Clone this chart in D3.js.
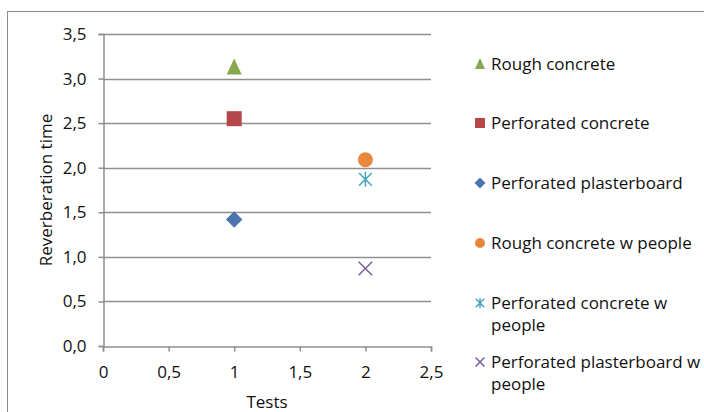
<!DOCTYPE html>
<html>
<head>
<meta charset="utf-8">
<script src="https://cdn.jsdelivr.net/npm/d3@7"></script>
<style>
  html, body { margin: 0; padding: 0; background: #fff; }
  svg text { font-family: "Open Sans", "Noto Sans", sans-serif; fill: #111; }
</style>
</head>
<body>
<svg id="chart" width="704" height="412"></svg>
<script>
// Series: one measurement each, at a test number
const seriesNames = [
  "Rough concrete",
  "Perforated concrete",
  "Perforated plasterboard",
  "Rough concrete w people",
  "Perforated concrete w people",
  "Perforated plasterboard w people"
];
const legendLines = [
  ["Rough concrete"],
  ["Perforated concrete"],
  ["Perforated plasterboard"],
  ["Rough concrete w people"],
  ["Perforated concrete w", "people"],
  ["Perforated plasterboard w", "people"]
];
const testNumber = [1, 1, 1, 2, 2, 2];
const reverbTime = [3.13, 2.55, 1.42, 2.09, 1.87, 0.87];
const markerKind = ["triangle", "square", "diamond", "circle", "asterisk", "cross"];
const seriesColors = ["#87a84c", "#b5464a", "#4a76ad", "#e8883d", "#43a5c0", "#7a5e9b"];

const xTicks = [0, 0.5, 1, 1.5, 2, 2.5];
const yTicks = [0, 0.5, 1, 1.5, 2, 2.5, 3, 3.5];
const xLabel = v => String(v).replace(".", ",");
const yLabel = v => v.toFixed(1).replace(".", ",");

const fontSize = 17;
const svg = d3.select("#chart");

// outer chart frame
svg.append("rect")
  .attr("x", 7.5).attr("y", 11.5)
  .attr("width", 720).attr("height", 420)
  .attr("fill", "none").attr("stroke", "#8c8c8c").attr("stroke-width", 1);

const x = d3.scaleLinear().domain([0, 2.5]).range([103, 431]);
const y = d3.scaleLinear().domain([0, 3.5]).range([346, 34]);

const gridColor = "#8f8f8f";

// horizontal gridlines
svg.append("g")
  .selectAll("line")
  .data(yTicks.filter(t => t > 0))
  .join("line")
  .attr("x1", x(0)).attr("x2", x(2.5))
  .attr("y1", d => Math.round(y(d)) + 0.5).attr("y2", d => Math.round(y(d)) + 0.5)
  .attr("stroke", gridColor).attr("stroke-width", 1.5);

// y axis
const yAxis = svg.append("g")
  .attr("transform", `translate(${x(0) + 0.5},0)`)
  .call(d3.axisLeft(y).tickValues(yTicks).tickFormat(yLabel).tickSize(5).tickPadding(12));
yAxis.select(".domain").attr("stroke", gridColor).attr("stroke-width", 1.5);
yAxis.selectAll(".tick line").attr("stroke", gridColor).attr("stroke-width", 1.5);
yAxis.selectAll(".tick text").attr("font-size", fontSize).attr("fill", "#111")
  .style("font-family", '"Open Sans", sans-serif');

// x axis
const xAxis = svg.append("g")
  .attr("transform", `translate(0,${Math.round(y(0)) + 0.5})`)
  .call(d3.axisBottom(x).tickValues(xTicks).tickFormat(xLabel).tickSize(5).tickPadding(14));
xAxis.select(".domain").attr("stroke", gridColor).attr("stroke-width", 1.5);
xAxis.selectAll(".tick line").attr("stroke", gridColor).attr("stroke-width", 1.5);
xAxis.selectAll(".tick text").attr("font-size", fontSize).attr("fill", "#111")
  .style("font-family", '"Open Sans", sans-serif');

// axis titles
svg.append("text")
  .attr("x", (x(0) + x(2.5)) / 2).attr("y", 408)
  .attr("text-anchor", "middle").attr("font-size", fontSize)
  .text("Tests");
svg.append("text")
  .attr("transform", `translate(52,${(y(0) + y(3.5)) / 2}) rotate(-90)`)
  .attr("text-anchor", "middle").attr("font-size", fontSize)
  .text("Reverberation time");

// marker drawing helper
function drawMarker(g, kind, color, s) {
  const h = s / 2;
  if (kind === "triangle") {
    g.append("path").attr("d", `M0,${-h - 1}L${h},${h}L${-h},${h}Z`).attr("fill", color);
  } else if (kind === "square") {
    g.append("rect").attr("x", -h).attr("y", -h).attr("width", s).attr("height", s).attr("fill", color);
  } else if (kind === "diamond") {
    const d = h * 1.1;
    g.append("path").attr("d", `M0,${-d}L${d},0L0,${d}L${-d},0Z`).attr("fill", color);
  } else if (kind === "circle") {
    g.append("circle").attr("r", h).attr("fill", color);
  } else if (kind === "asterisk") {
    const p = h * 0.85;
    g.append("path")
      .attr("d", `M0,${-h}V${h}M${-p},${-p}L${p},${p}M${p},${-p}L${-p},${p}`)
      .attr("stroke", color).attr("stroke-width", 1.5).attr("fill", "none");
  } else if (kind === "cross") {
    const p = h * 0.9;
    g.append("path")
      .attr("d", `M${-p},${-p}L${p},${p}M${p},${-p}L${-p},${p}`)
      .attr("stroke", color).attr("stroke-width", 1.5).attr("fill", "none");
  }
}

// data points
seriesNames.forEach((name, i) => {
  const g = svg.append("g")
    .attr("transform", `translate(${x(testNumber[i])},${y(reverbTime[i])})`);
  drawMarker(g, markerKind[i], seriesColors[i], 15);
});

// legend
const legendY = [64, 123, 183, 243, 303, 362];
seriesNames.forEach((name, i) => {
  const g = svg.append("g").attr("transform", `translate(480,${legendY[i]})`);
  drawMarker(g, markerKind[i], seriesColors[i], 10);
  const t = g.append("text").attr("x", 11).attr("y", 6).attr("font-size", fontSize);
  legendLines[i].forEach((line, k) => {
    t.append("tspan").attr("x", 11).attr("dy", k === 0 ? 0 : 22).text(line);
  });
});
</script>
</body>
</html>
